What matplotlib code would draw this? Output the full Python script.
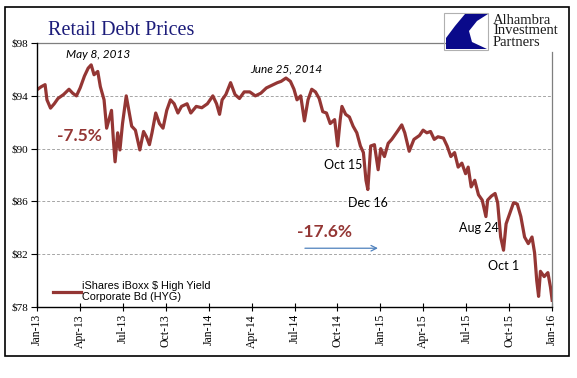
import numpy as np
import matplotlib
matplotlib.use('Agg')
import matplotlib.pyplot as plt
from matplotlib.patches import Rectangle, Polygon

# data: months since Jan-2013, HYG price ($)
months = [0.00, 0.31, 0.57, 0.70, 0.95, 1.21, 1.47, 1.86, 2.24, 2.50, 2.76, 3.02,
          3.32, 3.58, 3.79, 3.99, 4.25, 4.43, 4.69, 4.87, 5.08, 5.21, 5.34, 5.46,
          5.64, 5.80, 5.98, 6.24, 6.42, 6.62, 6.88, 7.19, 7.45, 7.65, 7.86, 8.04,
          8.30, 8.56, 8.81, 9.07, 9.33, 9.59, 9.85, 10.10, 10.49, 10.75, 11.13,
          11.52, 11.91, 12.29, 12.55, 12.76, 12.94, 13.20, 13.53, 13.84, 14.15,
          14.48, 14.87, 15.26, 15.64, 16.03, 16.42, 16.80, 17.06, 17.40, 17.71,
          17.96, 18.17, 18.43, 18.69, 18.94, 19.20, 19.46, 19.72, 19.97, 20.23,
          20.49, 20.80, 21.01, 21.19, 21.31, 21.57, 21.83, 22.09, 22.35, 22.60,
          22.81, 22.99, 23.12, 23.32, 23.58, 23.84, 24.02, 24.28, 24.54, 24.79,
          25.18, 25.49, 25.70, 26.01, 26.34, 26.73, 26.98, 27.24, 27.50, 27.76,
          28.02, 28.40, 28.66, 28.92, 29.18, 29.43, 29.69, 29.95, 30.13, 30.34,
          30.59, 30.85, 31.11, 31.37, 31.49, 31.75, 32.01, 32.19, 32.40, 32.60,
          32.78, 33.04, 33.30, 33.56, 33.81, 34.07, 34.33, 34.59, 34.77, 34.92,
          35.05, 35.18, 35.44, 35.70, 35.88, 36.00]
price = [94.46, 94.7, 94.85, 93.7, 93.07, 93.4, 93.8, 94.1, 94.5, 94.2, 94.0, 94.6,
         95.5, 96.1, 96.35, 95.6, 95.85, 94.7, 93.7, 91.55, 92.4, 92.9, 90.7, 89.0,
         91.2, 89.9, 91.9, 94.0, 92.9, 91.7, 91.4, 89.9, 91.3, 90.9, 90.3, 91.2,
         92.7, 91.9, 91.55, 92.9, 93.7, 93.4, 92.7, 93.2, 93.4, 92.7, 93.2,
         93.1, 93.4, 94.0, 93.4, 92.6, 93.7, 94.1, 95.0, 94.1, 93.8,
         94.3, 94.3, 94.0, 94.2, 94.6, 94.8, 95.0, 95.1, 95.35, 95.1,
         94.5, 93.7, 94.0, 92.1, 93.7, 94.5, 94.3, 93.8, 92.8, 92.7,
         91.9, 92.2, 90.2, 92.2, 93.2, 92.6, 92.4, 91.7, 91.2, 90.2,
         89.7, 87.6, 86.9, 90.2, 90.3, 88.4, 90.0, 89.4, 90.4, 90.7,
         91.3, 91.8, 91.2, 89.8, 90.7, 91.0, 91.4, 91.2, 91.3, 90.7,
         90.9, 90.8, 90.2, 89.4, 89.7, 88.6, 88.9, 88.1, 88.6, 87.1,
         87.6, 86.5, 86.1, 84.85, 86.1, 86.4, 86.6, 85.9, 83.3, 82.3,
         84.3, 85.1, 85.9, 85.8, 84.85, 83.3, 82.8, 83.3, 82.1, 80.0,
         78.8, 80.7, 80.3, 80.6, 79.5, 78.5]

tick_months = list(range(0, 37, 3))
tick_labels = ['Jan-13', 'Apr-13', 'Jul-13', 'Oct-13', 'Jan-14', 'Apr-14', 'Jul-14',
               'Oct-14', 'Jan-15', 'Apr-15', 'Jul-15', 'Oct-15', 'Jan-16']
y_ticks = [78, 82, 86, 90, 94, 98]

# (text, month, price)
date_notes = [('Oct 15', 21.4, 88.77), ('Dec 16', 23.14, 85.91),
              ('Aug 24', 30.88, 83.97), ('Oct 1', 32.58, 81.13)]
peak_notes = [('May 8, 2013', 4.3, 97.1), ('June 25, 2014', 17.45, 96.05)]
pct_notes = [('-7.5%', 2.96, 90.92), ('-17.6%', 20.07, 83.66)]

line_color = '#943634'
sans = ['Lato', 'DejaVu Sans']
serif = 'Liberation Serif'

fig = plt.figure(figsize=(5.77, 3.78), dpi=100)
ax = fig.add_axes([0.064, 0.188, 0.893, 0.698])

ax.plot(months, price, color=line_color, lw=2.3, solid_joinstyle='round',
        label='iShares iBoxx $ High Yield\nCorporate Bd (HYG)')
ax.set_xlim(0, 36)
ax.set_ylim(78, 98)

ax.set_yticks(y_ticks)
ax.set_yticklabels([f'${v}' for v in y_ticks], family=serif, fontsize=8)
ax.set_xticks(tick_months)
ax.set_xticklabels(tick_labels, rotation=90, family=serif, fontsize=8.5)
ax.tick_params(axis='y', direction='out', length=4, width=0.8, pad=2)
ax.tick_params(axis='x', direction='inout', length=6, width=0.8, pad=2)

for v in y_ticks[1:-1]:
    ax.axhline(v, color='#a6a6a6', lw=0.7, ls=(0, (3, 2)), zorder=0)

for s in ['top', 'right']:
    ax.spines[s].set_visible(False)
ax.spines['left'].set_linewidth(1.0)
ax.spines['bottom'].set_linewidth(1.0)
ax.plot([0, 0.792], [1, 1], transform=ax.transAxes, color='#7f7f7f', lw=0.9, clip_on=False)
ax.plot([1, 1], [0, 0.966], transform=ax.transAxes, color='#7f7f7f', lw=0.9, clip_on=False)

for txt, x, y in peak_notes:
    ax.text(x, y, txt, ha='center', va='center', style='italic', family=sans, fontsize=8.5)
for txt, x, y in date_notes:
    ax.text(x, y, txt, ha='center', va='center', family=sans, fontsize=9)
for txt, x, y in pct_notes:
    ax.text(x, y, txt, ha='center', va='center', weight='bold', family=sans,
            fontsize=12.5, color=line_color)
ax.annotate('', xy=(24.02, 82.45), xytext=(18.53, 82.45),
            arrowprops=dict(arrowstyle='->', color='#4f81bd', lw=0.9))

leg = ax.legend(loc='lower left', bbox_to_anchor=(0.012, -0.02), frameon=False,
                handlelength=2.6, handletextpad=0.1,
                prop={'family': 'Liberation Sans', 'size': 7.8})

fig.text(0.083, 0.92, 'Retail Debt Prices', family=serif, fontsize=14.5,
         color='#1c1c7a', va='center')

# logo
fig.patches.append(Rectangle((444 / 577, 1 - 50 / 378), 44 / 577, 37 / 378,
                             transform=fig.transFigure, fill=False, ec='#b0b0b0', lw=0.8))
logo = [(465, 14), (488, 14), (477, 21), (469, 31), (472, 42), (487, 49),
        (446, 49), (446, 38), (455, 26)]
fig.patches.append(Polygon([(x / 577, 1 - y / 378) for x, y in logo], closed=True,
                           transform=fig.transFigure, fc='#0a0a8a', ec='none'))
fig.text(493 / 577, 1 - 31 / 378, 'Alhambra\nInvestment\nPartners', family=serif,
         fontsize=10.5, color='#1a1a1a', va='center', ha='left', linespacing=0.8)

# outer frame
fig.patches.append(Rectangle((5 / 577, 1 - 356 / 378), 564 / 577, 349 / 378,
                             transform=fig.transFigure, fill=False, ec='black', lw=1.2))

fig.savefig('out.png', dpi=100)
